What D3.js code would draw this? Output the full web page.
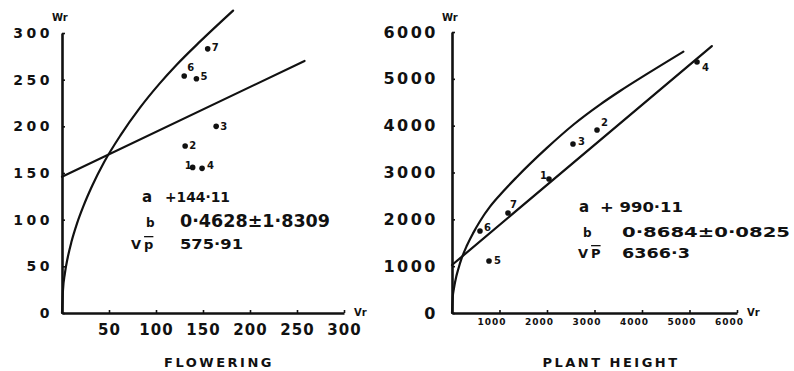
<!DOCTYPE html>
<html>
<head>
<meta charset="utf-8">
<script src="https://cdnjs.cloudflare.com/ajax/libs/d3/7.8.5/d3.min.js"></script>
<style>
  body { margin: 0; background: #fff; }
  svg { display: block; }
  text { font-family: "DejaVu Sans", sans-serif; font-weight: bold; fill: #111; }
</style>
</head>
<body>
<div id="graph"></div>
<script>
var width = 794;
var height = 371;

// flowering panel
var flowerXTicks = [50, 100, 150, 200, 250, 300];
var flowerYTicks = [0, 50, 100, 150, 200, 250, 300];
var flowerIds = ["1", "2", "3", "4", "5", "6", "7"];
var flowerVr = [139, 131, 164, 149, 143, 130, 155];
var flowerWr = [156, 179, 200, 155, 251, 254, 283];
var flowerLineVr = [0, 258];
var flowerLineWr = [146, 270];
var flowerCurveVr = [0, 1, 3, 6, 10, 16, 23, 32, 45, 62, 83, 104, 122, 147, 182];
var flowerCurveWr = [0, 24, 42, 59, 76, 96, 115, 136, 162, 190, 220, 246, 266, 291, 324];
var flowerStats = ["+144·11", "0·4628±1·8309", "575·91"];

// plant height panel
var heightXTicks = [1000, 2000, 3000, 4000, 5000, 6000];
var heightYTicks = [0, 1000, 2000, 3000, 4000, 5000, 6000];
var heightIds = ["1", "2", "3", "4", "5", "6", "7"];
var heightVr = [2042, 3053, 2547, 5158, 779, 589, 1179];
var heightWr = [2861, 3908, 3609, 5360, 1110, 1751, 2135];
var heightLineVr = [0, 5470];
var heightLineWr = [1025, 5700];
var heightCurveVr = [0, 15, 40, 90, 130, 204, 309, 442, 589, 800, 1000, 1361, 1993, 2554, 3116, 3537, 4098, 4870];
var heightCurveWr = [0, 330, 520, 780, 930, 1170, 1430, 1700, 1960, 2270, 2510, 2900, 3520, 4020, 4450, 4740, 5100, 5580];
var heightStats = ["+ 990·11", "0·8684±0·0825", "6366·3"];

var svg = d3.select('#graph')
    .append('svg')
    .attr('width', width)
    .attr('height', height);

function drawPanel(p) {
    var x = d3.scaleLinear().domain(p.xDomain).range(p.xRange);
    var y = d3.scaleLinear().domain(p.yDomain).range(p.yRange);
    var g = svg.append('g');

    var xAxis = g.append('g')
        .attr('transform', 'translate(0,' + p.yRange[0] + ')')
        .call(d3.axisBottom(x).tickValues(p.xTicks).tickSizeInner(-3).tickSizeOuter(0)
            .tickPadding(p.xPad).tickFormat(d3.format('d')));
    xAxis.selectAll('text')
        .attr('font-size', p.xFont)
        .attr('letter-spacing', p.xSpacing)
        .attr('dx', p.xDx)
        .attr('font-family', null);

    var yAxis = g.append('g')
        .attr('transform', 'translate(' + p.xRange[0] + ',0)')
        .call(d3.axisLeft(y).tickValues(p.yTicks).tickSizeInner(-3).tickSizeOuter(0)
            .tickPadding(p.yPad).tickFormat(d3.format('d')));
    yAxis.selectAll('text')
        .attr('font-size', p.yFont)
        .attr('letter-spacing', p.ySpacing)
        .attr('font-family', null);

    g.selectAll('.domain').attr('stroke', '#111').attr('stroke-width', 2.6);
    g.selectAll('.tick line').attr('stroke', '#111').attr('stroke-width', 1.6);

    // axis names
    g.append('text').attr('x', p.xRange[0] - 10).attr('y', 21)
        .attr('font-size', 10).text('Wr');
    g.append('text').attr('x', p.xRange[1] + 10).attr('y', 316)
        .attr('font-size', 10).text('Vr');

    var line = d3.line()
        .x(function(d) { return x(d[0]); })
        .y(function(d) { return y(d[1]); });

    g.append('path')
        .datum(d3.zip(p.lineVr, p.lineWr))
        .attr('d', line)
        .attr('fill', 'none').attr('stroke', '#111')
        .attr('stroke-width', 2.2).attr('stroke-linecap', 'round');

    g.append('path')
        .datum(d3.zip(p.curveVr, p.curveWr))
        .attr('d', line.curve(d3.curveMonotoneX))
        .attr('fill', 'none').attr('stroke', '#111')
        .attr('stroke-width', 2.2).attr('stroke-linecap', 'round');

    var pts = d3.zip(p.ids, p.vr, p.wr);
    g.selectAll('circle.pt')
        .data(pts)
        .enter()
        .append('circle')
        .attr('cx', function(d) { return x(d[1]); })
        .attr('cy', function(d) { return y(d[2]); })
        .attr('r', 2.8)
        .attr('fill', '#111');

    g.selectAll('text.pt')
        .data(pts)
        .enter()
        .append('text')
        .attr('x', function(d, i) { return x(d[1]) + p.labelOff[i][0]; })
        .attr('y', function(d, i) { return y(d[2]) + p.labelOff[i][1] + 3.5; })
        .attr('font-size', 10)
        .text(function(d) { return d[0]; });

    // statistics block
    var names = g.append('g');
    names.append('text').attr('x', p.nameX[0]).attr('y', p.rowY[0])
        .attr('font-size', 15).attr('font-weight', 'normal').text('a');
    names.append('text').attr('x', p.nameX[1]).attr('y', p.rowY[1])
        .attr('font-size', 12).text('b');
    var vp = names.append('text').attr('x', p.nameX[2]).attr('y', p.rowY[2])
        .attr('font-size', 13);
    vp.append('tspan').text('V');
    vp.append('tspan').attr('dx', 3).attr('text-decoration', 'overline').text(p.pName);

    g.selectAll('text.stat')
        .data(p.stats)
        .enter()
        .append('text')
        .attr('x', function(d, i) { return p.statX[i]; })
        .attr('y', function(d, i) { return p.rowY[i]; })
        .attr('font-size', function(d, i) { return p.statFont[i]; })
        .attr('font-weight', 'normal')
        .attr('textLength', function(d, i) { return p.statLen[i]; })
        .attr('lengthAdjust', 'spacingAndGlyphs')
        .text(function(d) { return d; });

    g.append('text')
        .attr('x', p.titleX).attr('y', 367)
        .attr('text-anchor', 'middle')
        .attr('font-size', 13)
        .attr('font-weight', 'normal')
        .attr('letter-spacing', 2.5)
        .text(p.title);
}

drawPanel({
    xDomain: [0, 300], xRange: [62, 344],
    yDomain: [0, 300], yRange: [313, 33],
    xTicks: flowerXTicks, yTicks: flowerYTicks,
    xPad: 11, xFont: 15, xSpacing: 1, xDx: 0,
    yPad: 9, yFont: 14, ySpacing: 3.5,
    lineVr: flowerLineVr, lineWr: flowerLineWr,
    curveVr: flowerCurveVr, curveWr: flowerCurveWr,
    ids: flowerIds, vr: flowerVr, wr: flowerWr,
    labelOff: [[-8, -2], [4, 0], [4, 0], [5, -3], [4, -2], [3, -8], [4, -1]],
    stats: flowerStats, pName: 'p',
    nameX: [142, 146, 131], statX: [165, 180, 180], rowY: [202, 227, 249],
    statFont: [14, 17, 14], statLen: [65, 150, 63],
    title: 'FLOWERING', titleX: 219
});

drawPanel({
    xDomain: [0, 6000], xRange: [452, 737],
    yDomain: [0, 6000], yRange: [313, 32],
    xTicks: heightXTicks, yTicks: heightYTicks,
    xPad: 6, xFont: 9, xSpacing: 1, xDx: -8,
    yPad: 14, yFont: 16, ySpacing: 2.5,
    lineVr: heightLineVr, lineWr: heightLineWr,
    curveVr: heightCurveVr, curveWr: heightCurveWr,
    ids: heightIds, vr: heightVr, wr: heightWr,
    labelOff: [[-9, -4], [4, -7], [5, -2], [5, 6], [5, -1], [4, -3], [2, -9]],
    stats: heightStats, pName: 'P',
    nameX: [579, 583, 578], statX: [600, 622, 622], rowY: [212, 237, 258],
    statFont: [14, 14, 14], statLen: [83, 168, 68],
    title: 'PLANT HEIGHT', titleX: 611
});
</script>
</body>
</html>
